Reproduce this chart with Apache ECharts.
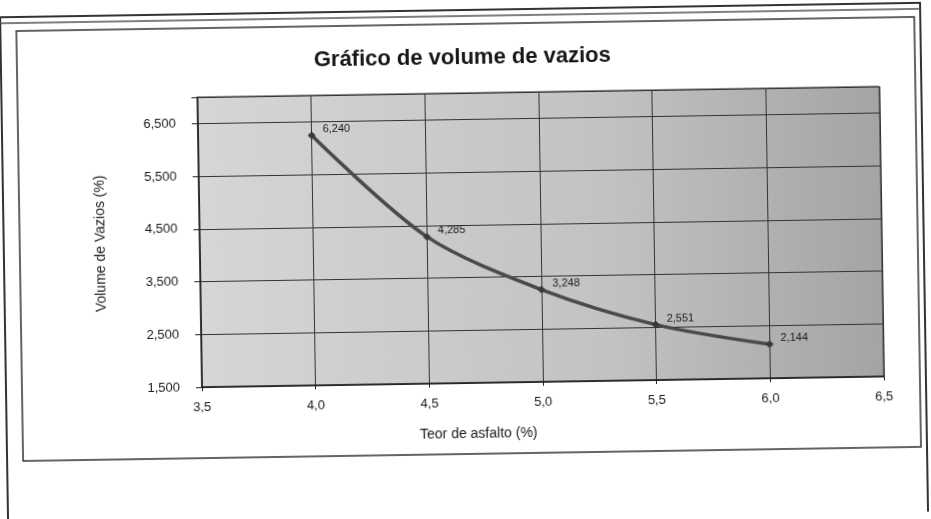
<!DOCTYPE html>
<html>
<head>
<meta charset="utf-8">
<script src="https://cdn.jsdelivr.net/npm/echarts@6/dist/echarts.min.js"></script>
<style>
  html, body { margin: 0; padding: 0; background: #ffffff; overflow: hidden; }
  #chart { width: 931px; height: 519px; transform: rotate(-0.9deg); transform-origin: 50% 50%; }
</style>
</head>
<body>
<div id="chart"></div>
<script>
// Teor de asfalto (%) e volume de vazios (%) medidos
const teorAsfalto = [4.0, 4.5, 5.0, 5.5, 6.0];
const volumeVazios = [6.240, 4.285, 3.248, 2.551, 2.144];

// Marcas dos eixos
const xTicks = [3.5, 4.0, 4.5, 5.0, 5.5, 6.0, 6.5];
const yTicks = [1.5, 2.5, 3.5, 4.5, 5.5, 6.5];

const fmtComma = (v, d) => v.toFixed(d).replace('.', ',');

const chart = echarts.init(document.getElementById('chart'), null, { renderer: 'canvas' });

const points = teorAsfalto.map((x, i) => [x, volumeVazios[i]]);
const FONT = 'Liberation Sans';

chart.setOption({
  animation: false,
  backgroundColor: '#ffffff',
  title: {
    text: 'Gráfico de volume de vazios',
    left: 'center',
    top: 42,
    textStyle: { fontFamily: FONT, fontSize: 22, fontWeight: 'bold', color: '#161616' }
  },
  graphic: [
    // moldura externa da página
    { type: 'rect', shape: { x: 4, y: 10, width: 920, height: 540 }, style: { fill: 'none', stroke: '#333', lineWidth: 2 }, silent: true },
    { type: 'line', shape: { x1: 4, y1: 16, x2: 924, y2: 16 }, style: { stroke: '#555', lineWidth: 1.5 }, silent: true },
    // caixa do gráfico
    { type: 'rect', shape: { x: 20, y: 24, width: 898, height: 430 }, style: { fill: 'none', stroke: '#333', lineWidth: 1.5 }, silent: true }
  ],
  grid: {
    left: 200, right: 49, top: 93, bottom: 136,
    show: true,
    borderColor: '#222',
    borderWidth: 1,
    backgroundColor: {
      type: 'linear', x: 0, y: 0, x2: 1, y2: 0,
      colorStops: [
        { offset: 0, color: '#d6d6d6' },
        { offset: 0.6, color: '#c2c2c2' },
        { offset: 1, color: '#a4a4a4' }
      ]
    }
  },
  xAxis: {
    type: 'value',
    min: xTicks[0], max: xTicks[xTicks.length - 1], interval: 0.5,
    name: 'Teor de asfalto (%)',
    nameLocation: 'middle',
    nameGap: 44,
    nameTextStyle: { fontFamily: FONT, fontSize: 14, color: '#1a1a1a', padding: [0, 130, 0, 0] },
    axisLine: { show: true, lineStyle: { color: '#222', width: 1.5 } },
    axisTick: { show: true, inside: false, length: 4, lineStyle: { color: '#222' } },
    axisLabel: {
      margin: 14,
      fontFamily: FONT, fontSize: 13, color: '#1a1a1a',
      formatter: v => fmtComma(v, 1)
    },
    splitLine: { show: true, lineStyle: { color: '#333', width: 1 } }
  },
  yAxis: {
    type: 'value',
    min: yTicks[0], max: 7.0, interval: 1,
    name: 'Volume de Vazios (%)',
    nameLocation: 'middle',
    nameGap: 92,
    nameRotate: 90,
    nameTextStyle: { fontFamily: FONT, fontSize: 14, color: '#1a1a1a' },
    axisLine: { show: true, lineStyle: { color: '#222', width: 1.5 } },
    axisTick: { show: true, length: 6, lineStyle: { color: '#222' } },
    axisLabel: {
      margin: 22,
      fontFamily: FONT, fontSize: 13, color: '#1a1a1a',
      formatter: v => (yTicks.some(t => Math.abs(t - v) < 1e-9) ? fmtComma(v, 3) : '')
    },
    splitLine: { show: true, lineStyle: { color: '#333', width: 1 } }
  },
  series: [{
    type: 'line',
    data: points,
    smooth: 0.3,
    symbol: 'diamond',
    symbolSize: 8,
    itemStyle: { color: '#3a3a3a' },
    lineStyle: { color: '#4a4a4a', width: 3.5 },
    label: {
      show: true,
      position: 'right',
      offset: [2, -6],
      fontFamily: FONT, fontSize: 11, color: '#1a1a1a',
      formatter: p => fmtComma(p.value[1], 3)
    }
  }]
});
</script>
</body>
</html>
